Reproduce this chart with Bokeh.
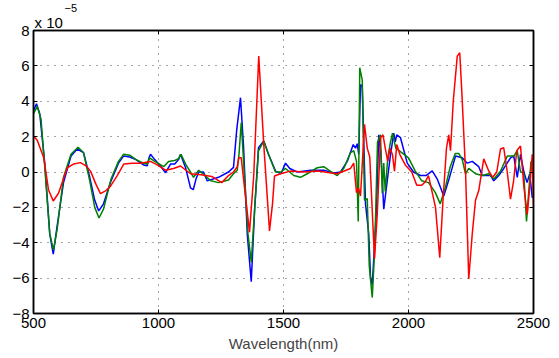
from bokeh.plotting import figure
from bokeh.models import Range1d, LinearAxis, FixedTicker, CustomJSTickFormatter, Title
from bokeh.embed import file_html
from bokeh.resources import INLINE

# values in units of 1e-5
blue_x = [500, 512, 525, 545, 565, 579, 595, 620, 650, 675, 700, 725, 745, 761, 780, 810, 840, 860, 885, 910,
          940, 955, 962, 968, 985, 1010, 1028, 1048, 1065, 1080, 1088, 1108, 1128, 1139, 1150, 1161, 1180, 1195,
          1240, 1280, 1300, 1313, 1328, 1340, 1355, 1371, 1385, 1400, 1421, 1440, 1468, 1490, 1508, 1525, 1555,
          1608, 1661, 1701, 1728, 1755, 1779, 1788, 1795, 1801, 1808, 1815, 1828, 1841, 1848, 1855, 1865, 1872,
          1881, 1890, 1901, 1914, 1928, 1941, 1947, 1953, 1968, 1995, 2020, 2048, 2070, 2095, 2115, 2141, 2160,
          2188, 2215, 2235, 2255, 2281, 2295, 2328, 2341, 2361, 2381, 2408, 2421, 2435, 2448, 2461, 2474,
          2485, 2495, 2500]
blue_y = [3.45, 3.86, 3.3, 0.5, -3.5, -4.64, -3.0, -0.6, 0.9, 1.3, 1.1, -0.3, -1.6, -2.2, -1.8, -0.5, 0.5, 0.9, 0.85, 0.7,
          0.4, 0.35, 0.8, 1.0, 0.7, 0.3, -0.04, 0.45, 0.45, 0.7, 1.0, 0.26, -0.9, -1.0, -0.4, 0.0, 0.0, -0.5,
          -0.3, 0.0, 0.26, 2.4, 4.2, 1.5, -3.5, -6.2, -2.0, 1.37, 1.75, 1.0, 0.05, -0.1, 0.5, 0.2, 0.0,
          0.1, 0.1, -0.05, 0.0, 0.6, 1.55, 1.35, 1.6, 1.0, 4.95, 4.8, -1.8, -3.5, -5.9, -6.4, -3.9, -2.0,
          2.1, 1.0, -2.1, -0.6, 0.97, 2.2, 1.7, 2.1, 1.94, 0.5, 0.0, -0.2, -0.2, 0.06, -0.4, -1.36, -0.5,
          0.9, 0.8, 0.5, 0.6, 0.3, -0.2, -0.2, -0.5, -0.2, 0.2, 0.8, 0.9, -0.3, 1.0, 0.04, -0.6,
          -0.1, -1.45, -1.4]

green_x = [500, 515, 530, 545, 565, 580, 595, 620, 650, 678, 700, 725, 745, 762, 780, 810, 840, 860, 885, 910,
           940, 955, 964, 985, 1021, 1040, 1065, 1080, 1090, 1110, 1128, 1140, 1161, 1185, 1210, 1240, 1280, 1300,
           1315, 1322, 1331, 1345, 1358, 1371, 1385, 1400, 1421, 1440, 1468, 1490, 1508, 1541, 1568, 1595, 1635,
           1661, 1688, 1715, 1741, 1768, 1781, 1792, 1799, 1805, 1815, 1824, 1835, 1843, 1855, 1865, 1876, 1888,
           1895, 1901, 1907, 1917, 1928, 1936, 1949, 1973, 2000, 2027, 2053, 2080, 2107, 2127, 2147, 2167, 2187,
           2201, 2215, 2228, 2241, 2268, 2295, 2321, 2341, 2368, 2395, 2421, 2435, 2448, 2461, 2472, 2480, 2490, 2500]
green_y = [3.3, 3.7, 3.0, 0.3, -3.5, -4.4, -3.2, -0.3, 1.0, 1.4, 1.1, -0.5, -2.0, -2.6, -2.1, -0.4, 0.6, 1.0, 0.95, 0.7,
           0.5, 0.45, 0.8, 0.6, 0.3, 0.6, 0.65, 0.75, 1.0, 0.4, 0.0, -0.3, 0.1, -0.2, -0.5, -0.6, -0.45, -0.1,
           0.1, 1.0, 2.8, -0.5, -3.5, -5.1, -2.0, 1.2, 1.75, 1.0, 0.0, 0.0, 0.2, -0.2, -0.3, -0.1, 0.24,
           0.3, 0.04, -0.2, 0.2, 1.1, 1.2, 0.6, -2.8, 5.9, 5.2, -1.6, -1.5, -5.3, -7.1, -4.3, 1.7, 2.1,
           -1.2, 0.5, -1.1, 0.8, 1.7, 2.2, 1.35, 1.1, 0.8, 0.05, -0.5, -0.6, -1.15, -1.8, -0.9, 0.3, 1.05,
           1.05, 0.7, -0.1, 0.2, -0.1, -0.2, -0.1, -0.4, 0.04, 0.9, 0.9, 1.2, 0.0, -0.05, -2.8, -1.3, 0.6, 0.2]

red_x = [500, 515, 541, 560, 579, 600, 635, 660, 688, 710, 728, 750, 768, 790, 808, 835, 861, 895, 928, 968,
         995, 1028, 1060, 1088, 1128, 1170, 1213, 1253, 1280, 1300, 1315, 1321, 1331, 1341, 1364, 1381, 1401, 1421, 1444,
         1456, 1464, 1488, 1528, 1580, 1640, 1690, 1715, 1768, 1781, 1792, 1800, 1808, 1824, 1835, 1845, 1864,
         1875, 1888, 1898, 1907, 1917, 1926, 1936, 1944, 1953, 1966, 1987, 2013, 2033, 2053, 2067, 2080, 2108,
         2125, 2138, 2152, 2161, 2168, 2179, 2195, 2205, 2213, 2228, 2241, 2255, 2268, 2281, 2301, 2321, 2337,
         2353, 2368, 2381, 2395, 2408, 2420, 2433, 2448, 2462, 2475, 2487, 2495, 2500]
red_y = [2.03, 1.8, 0.8, -1.0, -1.64, -1.2, 0.24, 0.45, 0.53, 0.35, 0.05, -0.7, -1.22, -1.05, -0.8, -0.2, 0.45, 0.5, 0.5, 0.6,
         0.4, 0.1, 0.2, 0.34, -0.1, -0.15, -0.25, -0.6, -0.2, 0.0, 0.3, 0.8, 0.8, -0.5, -3.4, -0.2, 6.55, 1.56, -3.33,
         -1.8, -0.23, -0.1, 0.05, 0.0, 0.05, -0.05, -0.1, 0.2, 0.5, -1.17, -0.9, -1.36, 2.7, 1.35, 0.85, -4.9,
         -2.4, 1.94, 2.1, 1.35, 0.6, 1.35, 0.97, 0.04, 1.55, 0.97, 0.4, 0.0, -0.75, -0.75, -0.55, -0.2, -2.0,
         -4.84, -1.6, 1.37, 2.1, 1.2, 4.0, 6.55, 6.74, 4.6, 0.1, -6.05, -3.5, -1.6, -1.05, 0.74, 0.06, -0.3,
         0.0, 1.3, 1.37, 0.0, -1.53, -0.55, 1.2, 1.47, -0.9, -2.4, -0.5, 1.0, -1.9]

x_ticks = [500, 1000, 1500, 2000, 2500]
y_ticks = [-8, -6, -4, -2, 0, 2, 4, 6, 8]
scale_base = "x 10"
scale_exp = "\u22125"

FONT = "Liberation Sans"

p = figure(width=559, height=358, output_backend="svg", toolbar_location=None,
           x_range=Range1d(500, 2500), y_range=Range1d(-8, 8),
           min_border_left=33, min_border_right=26, min_border_top=30, min_border_bottom=45)
p.background_fill_color = "white"
p.border_fill_color = "white"
p.outline_line_color = "black"
p.outline_line_width = 1.5

for ax, ticks in ((p.xaxis[0], x_ticks), (p.yaxis[0], y_ticks)):
    ax.ticker = FixedTicker(ticks=ticks)
    ax.major_tick_in = 4
    ax.major_tick_out = 0
    ax.minor_tick_line_color = None
    ax.axis_line_width = 1.5
    ax.axis_line_color = "black"
    ax.major_tick_line_color = "black"
    ax.major_label_text_font = FONT
    ax.major_label_text_font_size = "15px"
    ax.major_label_text_color = "black"
    ax.major_label_standoff = 4

p.yaxis[0].formatter = CustomJSTickFormatter(code="return tick < 0 ? '\u2212' + Math.abs(tick) : '' + tick;")
p.xaxis[0].axis_label = "Wavelength(nm)"
p.xaxis[0].axis_label_text_font = FONT
p.xaxis[0].axis_label_text_font_size = "15px"
p.xaxis[0].axis_label_text_font_style = "normal"
p.xaxis[0].axis_label_standoff = 4

blank = CustomJSTickFormatter(code="return '';")
top = LinearAxis(ticker=FixedTicker(ticks=x_ticks), formatter=blank, major_label_text_color=None,
                 major_tick_in=4, major_tick_out=0, minor_tick_line_color=None,
                 axis_line_width=1.5, major_label_standoff=0)
right = LinearAxis(ticker=FixedTicker(ticks=y_ticks), formatter=blank, major_label_text_color=None,
                   major_tick_in=4, major_tick_out=0, minor_tick_line_color=None,
                   axis_line_width=1.5, major_label_standoff=0)
p.add_layout(top, "above")
p.add_layout(right, "right")

# "x 10" just above the frame, exponent above it
base_title = Title(text=scale_base, text_font=FONT, text_font_size="15px", text_font_style="normal",
                   text_color="black", align="left", offset=1, standoff=0)
p.add_layout(base_title, "above")
p.title.text = scale_exp
p.title.text_font = FONT
p.title.text_font_size = "11px"
p.title.text_font_style = "normal"
p.title.text_color = "black"
p.title.align = "left"
p.title.offset = 31
p.title.standoff = 0

p.xgrid.ticker = FixedTicker(ticks=x_ticks)
p.ygrid.ticker = FixedTicker(ticks=y_ticks)
for g in (p.xgrid[0], p.ygrid[0]):
    g.grid_line_color = "black"
    g.grid_line_alpha = 0.7
    g.grid_line_dash = "1 6"
    g.grid_line_width = 1

p.line(blue_x, blue_y, line_color="#0000ff", line_width=1.5)
p.line(green_x, green_y, line_color="#008000", line_width=1.5)
p.line(red_x, red_y, line_color="#ff0000", line_width=1.5)

open("out.html", "w").write(file_html(p, INLINE))
